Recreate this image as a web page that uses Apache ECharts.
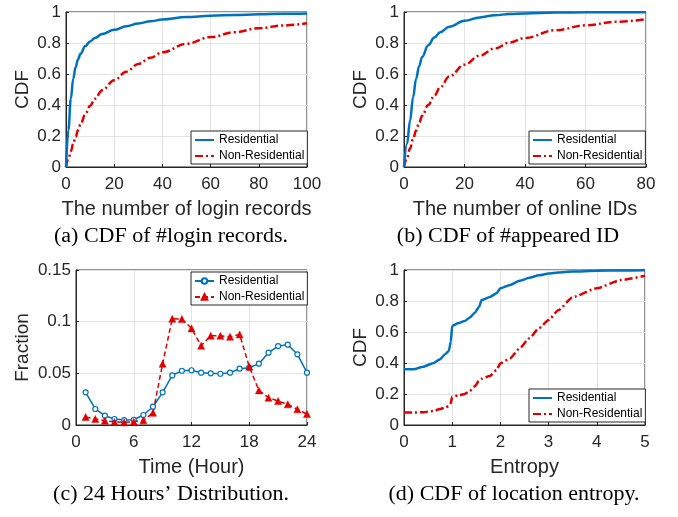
<!DOCTYPE html>
<html style="height: 100%">

<head>
  <meta charset="utf-8">
  <title>CDF panels</title>
</head>

<body style="height: 100%; margin: 0; background: #fff">
  <div id="container" style="width: 678px; height: 517px"></div>
  <script type="text/javascript" src="https://cdn.jsdelivr.net/npm/echarts@6/dist/echarts.min.js"></script>
  <script type="text/javascript">
    // (a) number of login records
    var loginX = [0, 1, 2, 3, 4, 5, 6, 8, 10, 12, 15, 20, 25, 30, 35, 40, 50, 60, 70, 80, 90, 100];
    var loginRes = [0, 0.24, 0.44, 0.57, 0.645, 0.695, 0.73, 0.78, 0.81, 0.832, 0.858, 0.885, 0.908, 0.926, 0.94, 0.952, 0.967, 0.976, 0.981, 0.985, 0.988, 0.99];
    var loginNon = [0, 0.05, 0.1, 0.15, 0.195, 0.238, 0.275, 0.34, 0.395, 0.44, 0.495, 0.56, 0.615, 0.665, 0.705, 0.74, 0.795, 0.838, 0.87, 0.895, 0.913, 0.927];

    // (b) number of online IDs
    var idX = [0, 1, 2, 3, 4, 5, 6, 8, 10, 12, 15, 20, 25, 30, 35, 40, 50, 60, 70, 80];
    var idRes = [0, 0.15, 0.30, 0.45, 0.57, 0.65, 0.71, 0.785, 0.835, 0.87, 0.905, 0.943, 0.965, 0.979, 0.987, 0.991, 0.996, 0.998, 0.999, 0.999];
    var idNon = [0, 0.06, 0.12, 0.18, 0.235, 0.285, 0.33, 0.40, 0.46, 0.515, 0.585, 0.66, 0.718, 0.765, 0.803, 0.833, 0.882, 0.914, 0.937, 0.953];

    // (c) 24 hours
    var hours = [1, 2, 3, 4, 5, 6, 7, 8, 9, 10, 11, 12, 13, 14, 15, 16, 17, 18, 19, 20, 21, 22, 23, 24];
    var hourRes = [0.0316, 0.0155, 0.009, 0.0058, 0.0048, 0.0051, 0.0097, 0.0177, 0.0316, 0.048, 0.0525, 0.053, 0.0506, 0.050, 0.0496, 0.0506, 0.0545, 0.0555, 0.0593, 0.070, 0.0764, 0.0777, 0.0684, 0.0506];
    var hourNon = [0.0077, 0.0058, 0.0042, 0.0029, 0.0026, 0.0032, 0.0045, 0.0119, 0.0593, 0.1028, 0.1025, 0.0935, 0.0767, 0.0864, 0.0864, 0.0854, 0.0877, 0.0564, 0.0335, 0.0264, 0.0232, 0.020, 0.0152, 0.0106];

    // (d) location entropy
    var entX = [0, 0.2, 0.4, 0.6, 0.75, 0.85, 0.93, 0.97, 1.0, 1.12, 1.26, 1.36, 1.47, 1.56, 1.61, 1.78, 1.92, 2.0, 2.2, 2.4, 2.6, 2.8, 3.0, 3.2, 3.5, 4.0, 4.5, 5.0];
    var entRes = [0.36, 0.36, 0.376, 0.398, 0.425, 0.456, 0.477, 0.537, 0.639, 0.656, 0.671, 0.692, 0.725, 0.763, 0.806, 0.826, 0.85, 0.882, 0.903, 0.93, 0.95, 0.966, 0.977, 0.984, 0.99, 0.995, 0.997, 0.998];
    var entNon = [0.08, 0.08, 0.083, 0.09, 0.103, 0.113, 0.122, 0.14, 0.183, 0.19, 0.2, 0.218, 0.25, 0.288, 0.298, 0.316, 0.355, 0.398, 0.43, 0.495, 0.56, 0.625, 0.677, 0.74, 0.825, 0.882, 0.935, 0.963];

    var names = ['Residential', 'Non-Residential'];
    var captions = ['(a) CDF of #login records.', '(b) CDF of #appeared ID', '(c) 24 Hours\u2019 Distribution.', '(d) CDF of location entropy.'];

    var blue = '#0072bd';
    var red = '#e00000';
    var ink = '#262626';
    var sans = '"Liberation Sans", Arial, sans-serif';

    function pairs(xs, ys) {
      return xs.map(function (x, i) { return [x, ys[i]]; });
    }

    // series names carry the panel number after '#', the legend shows only the part before it
    function sname(n, i) {
      return n + '#' + i;
    }

    var grids = [
      { left: 66, top: 12, width: 241, height: 155 },
      { left: 404, top: 12, width: 242, height: 155 },
      { left: 76, top: 270, width: 231, height: 155 },
      { left: 404, top: 270, width: 241, height: 155 }
    ];

    function xAxis(i, max, interval, name) {
      return {
        type: 'value', gridIndex: i, min: 0, max: max, interval: interval,
        name: name, nameLocation: 'middle', nameGap: 32,
        nameTextStyle: { fontFamily: sans, fontSize: 20, color: ink },
        axisLine: { show: true, onZero: false, lineStyle: { color: ink, width: 1 } },
        axisTick: { show: true, inside: true, length: 3, lineStyle: { color: ink } },
        axisLabel: { fontFamily: sans, fontSize: 17, color: ink, margin: 9 },
        splitLine: { show: true, lineStyle: { color: '#e3e3e3', width: 1 } }
      };
    }

    function yAxis(i, max, interval, name, gap) {
      return {
        type: 'value', gridIndex: i, min: 0, max: max, interval: interval,
        name: name, nameLocation: 'middle', nameGap: gap,
        nameTextStyle: { fontFamily: sans, fontSize: 19, color: ink },
        axisLine: { show: true, lineStyle: { color: ink, width: 1 } },
        axisTick: { show: true, inside: true, length: 3, lineStyle: { color: ink } },
        axisLabel: { fontFamily: sans, fontSize: 17, color: ink, margin: 5 },
        splitLine: { show: true, lineStyle: { color: '#e3e3e3', width: 1 } }
      };
    }

    function legend(i, left, top, marks) {
      var lg = {
        show: true, orient: 'vertical', left: left, top: top,
        data: names.map(function (n) { return { name: sname(n, i) }; }),
        formatter: function (n) { return n.split('#')[0]; },
        itemWidth: 19, itemHeight: marks ? 7 : 10, itemGap: 4,
        padding: [3, 3, 2, 3],
        backgroundColor: '#fff', borderColor: ink, borderWidth: 1,
        textStyle: { fontFamily: sans, fontSize: 12, color: '#000' },
        selectedMode: false
      };
      if (!marks) {
        lg.itemStyle = { opacity: 0 };
      }
      return lg;
    }

    function cdf(i, name, data, color, dashed, smooth) {
      return {
        type: 'line', name: sname(name, i), xAxisIndex: i, yAxisIndex: i,
        data: data, showSymbol: false, symbol: 'none',
        smooth: smooth, smoothMonotone: 'x',
        lineStyle: { color: color, width: 2.5, type: dashed ? [8, 3, 2, 3] : 'solid' },
        itemStyle: { color: color },
        z: dashed ? 3 : 4
      };
    }

    var dom = document.getElementById('container');
    var myChart = echarts.init(dom, null, { renderer: 'canvas' });

    var option = {
      animation: false,
      backgroundColor: '#fff',
      grid: grids.map(function (g) {
        return Object.assign({ show: true, borderColor: ink, borderWidth: 1, backgroundColor: 'transparent' }, g);
      }),
      xAxis: [
        xAxis(0, 100, 20, 'The number of login records'),
        xAxis(1, 80, 20, 'The number of online IDs'),
        xAxis(2, 24, 6, 'Time (Hour)'),
        xAxis(3, 5, 1, 'Entropy')
      ],
      yAxis: [
        yAxis(0, 1, 0.2, 'CDF', 34),
        yAxis(1, 1, 0.2, 'CDF', 34),
        yAxis(2, 0.15, 0.05, 'Fraction', 44),
        yAxis(3, 1, 0.2, 'CDF', 34)
      ],
      legend: [
        legend(0, 191, 131, false),
        legend(1, 529, 131, false),
        legend(2, 191, 272, true),
        legend(3, 529, 389, false)
      ],
      series: [
        cdf(0, names[0], pairs(loginX, loginRes), blue, false, 0.4),
        cdf(0, names[1], pairs(loginX, loginNon), red, true, 0.4),
        cdf(1, names[0], pairs(idX, idRes), blue, false, 0.4),
        cdf(1, names[1], pairs(idX, idNon), red, true, 0.4),
        {
          type: 'line', name: sname(names[0], 2), xAxisIndex: 2, yAxisIndex: 2,
          data: pairs(hours, hourRes),
          symbol: 'circle', symbolSize: 5, showSymbol: true,
          lineStyle: { color: blue, width: 1.5 },
          itemStyle: { color: '#fff', borderColor: blue, borderWidth: 1.2 }
        },
        {
          type: 'line', name: sname(names[1], 2), xAxisIndex: 2, yAxisIndex: 2,
          data: pairs(hours, hourNon),
          symbol: 'triangle', symbolSize: 7, showSymbol: true,
          lineStyle: { color: red, width: 1.5, type: [5, 3] },
          itemStyle: { color: red, borderColor: red, borderWidth: 0.5 }
        },
        cdf(3, names[0], pairs(entX, entRes), blue, false, 0.2),
        cdf(3, names[1], pairs(entX, entNon), red, true, 0.2)
      ],
      graphic: captions.map(function (c, i) {
        var cx = [171, 508, 171, 514][i];
        var cy = [237, 237, 495, 495][i];
        return {
          type: 'text', x: cx, y: cy, scaleX: 1.1,
          style: {
            text: c, fill: '#000', textAlign: 'center', textVerticalAlign: 'middle',
            font: '20px "Liberation Serif", "Times New Roman", serif'
          }
        };
      })
    };

    if (option && typeof option === "object") {
      myChart.setOption(option, true);
    }
  </script>
</body>

</html>
